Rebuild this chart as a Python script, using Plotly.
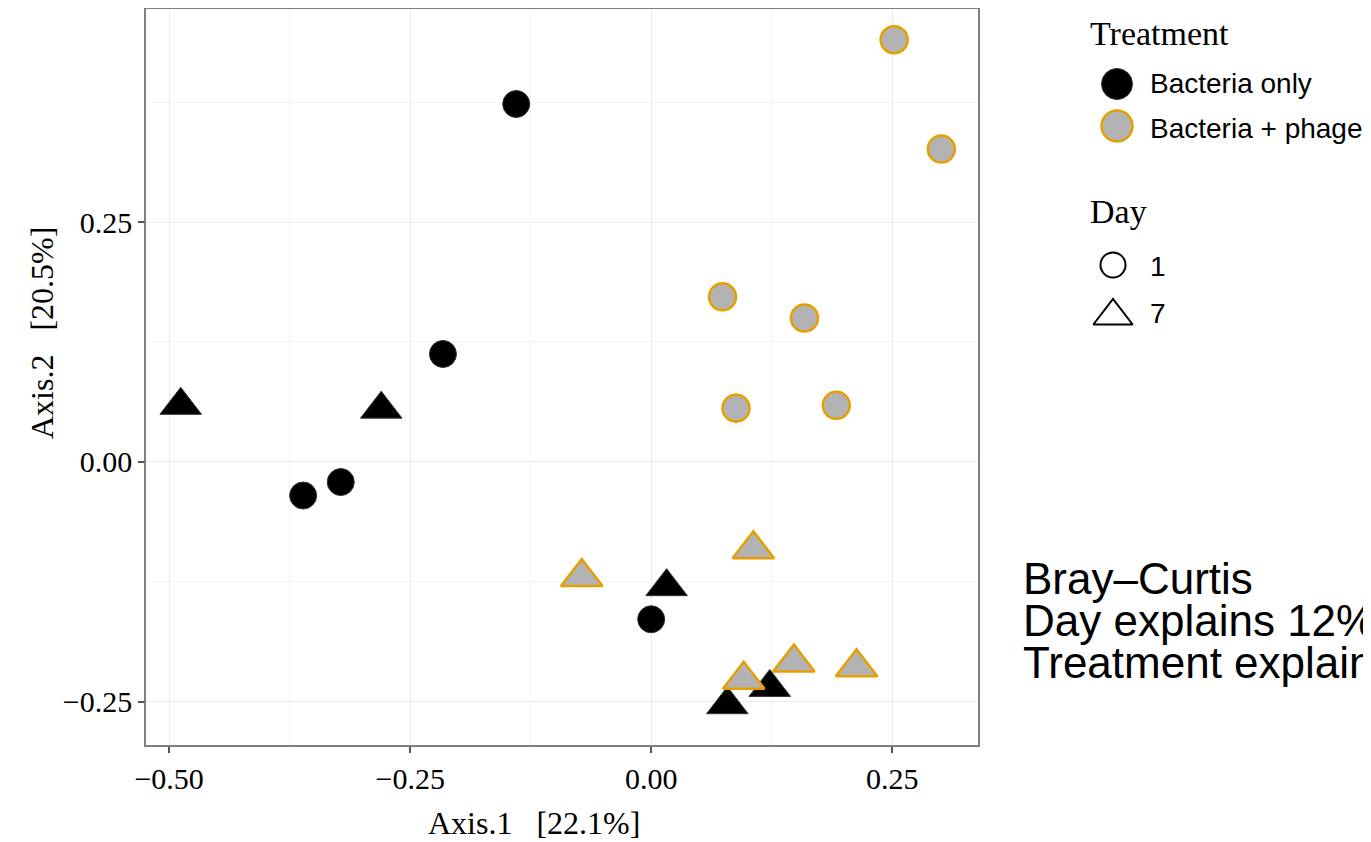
import plotly.graph_objects as go

# ---- data (PCoA coordinates) ----
bact_d1_x = [-0.140, -0.216, -0.361, -0.322, 0.000]
bact_d1_y = [0.373, 0.1125, -0.035, -0.021, -0.164]
bact_d7_x = [-0.488, -0.280, 0.016, 0.079, 0.123]
bact_d7_y = [0.059, 0.055, -0.130, -0.253, -0.235]
phage_d1_x = [0.252, 0.301, 0.074, 0.159, 0.088, 0.192]
phage_d1_y = [0.440, 0.326, 0.172, 0.150, 0.056, 0.059]
phage_d7_x = [-0.072, 0.106, 0.096, 0.148, 0.213]
phage_d7_y = [-0.120, -0.091, -0.227, -0.209, -0.214]

tick_vals_x = [-0.50, -0.25, 0.00, 0.25]
tick_text_x = ["\u22120.50", "\u22120.25", "0.00", "0.25"]
tick_vals_y = [-0.25, 0.00, 0.25]
tick_text_y = ["\u22120.25", "0.00", "0.25"]

treatments = ["Bacteria only", "Bacteria + phage"]
days = ["1", "7"]
annot_lines = ["Bray\u2013Curtis", "Day explains 12%", "Treatment explains 30%"]

# page body has an 8px margin; work in page pixels and shift
OFF = 8
W, H = 1371 - OFF, 842 - OFF
SERIF = "Liberation Serif, Times New Roman, serif"
SANS = "Liberation Sans, Arial, sans-serif"

BLACK_FILL = "#000000"
GREY_FILL = "#b3b3b3"
ORANGE = "#e69f00"

def fx(p):
    return p - OFF

def fy(p):
    return p - OFF

fig = go.Figure()

def add(x, y, sym, size, fill, line_col, line_w):
    fig.add_trace(go.Scatter(
        x=x, y=y, mode="markers", showlegend=False, hoverinfo="x+y",
        marker=dict(symbol=sym, size=size, color=fill,
                    line=dict(color=line_col, width=line_w)),
        xaxis="x", yaxis="y"))

add(bact_d1_x, bact_d1_y, "circle", 27, BLACK_FILL, "#333333", 1)
add(bact_d7_x, bact_d7_y, "triangle-up", 36, BLACK_FILL, "#333333", 1)
add(phage_d1_x, phage_d1_y, "circle", 27, GREY_FILL, ORANGE, 2.5)
add(phage_d7_x, phage_d7_y, "triangle-up", 36, GREY_FILL, ORANGE, 2.5)

# ---- legend drawn on a pixel overlay axis ----
def leg(xp, yp, sym, size, fill, line_col, line_w):
    fig.add_trace(go.Scatter(
        x=[fx(xp)], y=[fy(yp)], mode="markers", showlegend=False, hoverinfo="skip",
        marker=dict(symbol=sym, size=size, color=fill,
                    line=dict(color=line_col, width=line_w)),
        xaxis="x2", yaxis="y2"))

leg(1117, 84, "circle", 31, BLACK_FILL, "#333333", 1)
leg(1117, 126, "circle", 31, GREY_FILL, ORANGE, 2.5)
leg(1113, 265, "circle", 25, "#ffffff", "#000000", 2)
leg(1113, 316, "triangle-up", 34, "#ffffff", "#000000", 2)

annotations = []
def txt(x, y, t, font, size, xanchor="left", textangle=0):
    annotations.append(dict(x=fx(x), y=fy(y), xref="x2", yref="y2", text=t,
                            showarrow=False, xanchor=xanchor, yanchor="middle",
                            textangle=textangle,
                            font=dict(family=font, size=size, color="#000000")))

txt(1088, 33, "Treatment", SERIF, 34)
txt(1148, 83, treatments[0], SANS, 28)
txt(1148, 128, treatments[1], SANS, 28)
txt(1088, 211, "Day", SERIF, 34)
txt(1148, 266, days[0], SANS, 28)
txt(1148, 313, days[1], SANS, 28)

txt(1021, 578, annot_lines[0], SANS, 44)
txt(1021, 620, annot_lines[1], SANS, 44)
txt(1021, 662, annot_lines[2], SANS, 44)

txt(534, 823, "Axis.1&nbsp;&nbsp;&nbsp;[22.1%]", SERIF, 32, xanchor="center")
txt(42, 333, "Axis.2&nbsp;&nbsp;&nbsp;[20.5%]", SERIF, 32, xanchor="center", textangle=-90)

x0, x1 = fx(146), fx(978)
y_top, y_bot = fy(9), fy(745)

axis_common = dict(
    showgrid=True, gridcolor="#ebebeb", gridwidth=1,
    zeroline=False, showline=True, linecolor="#7f7f7f", linewidth=1.5,
    mirror=True, ticks="outside", ticklen=6, tickcolor="#555555", tickwidth=1.5,
    tickfont=dict(family=SERIF, size=30, color="#000000"),
    automargin=False,
    minor=dict(dtick=0.125, showgrid=True, gridcolor="#f4f4f4", gridwidth=1, ticks=""),
)

fig.update_layout(
    width=W, height=H,
    margin=dict(l=0, r=0, t=0, b=0),
    paper_bgcolor="#ffffff", plot_bgcolor="rgba(0,0,0,0)",
    showlegend=False,
    xaxis=dict(domain=[x0 / W, x1 / W], range=[-0.524, 0.339],
               tickvals=tick_vals_x, ticktext=tick_text_x, anchor="y",
               **axis_common),
    yaxis=dict(domain=[1 - y_bot / H, 1 - y_top / H], range=[-0.295, 0.472],
               tickvals=tick_vals_y, ticktext=tick_text_y, anchor="x",
               **axis_common),
    xaxis2=dict(domain=[0, 1], range=[0, W], visible=False, anchor="y2",
                fixedrange=True),
    yaxis2=dict(domain=[0, 1], range=[H, 0], visible=False, anchor="x2",
                fixedrange=True),
    annotations=annotations,
)

fig.write_html("out.html")
